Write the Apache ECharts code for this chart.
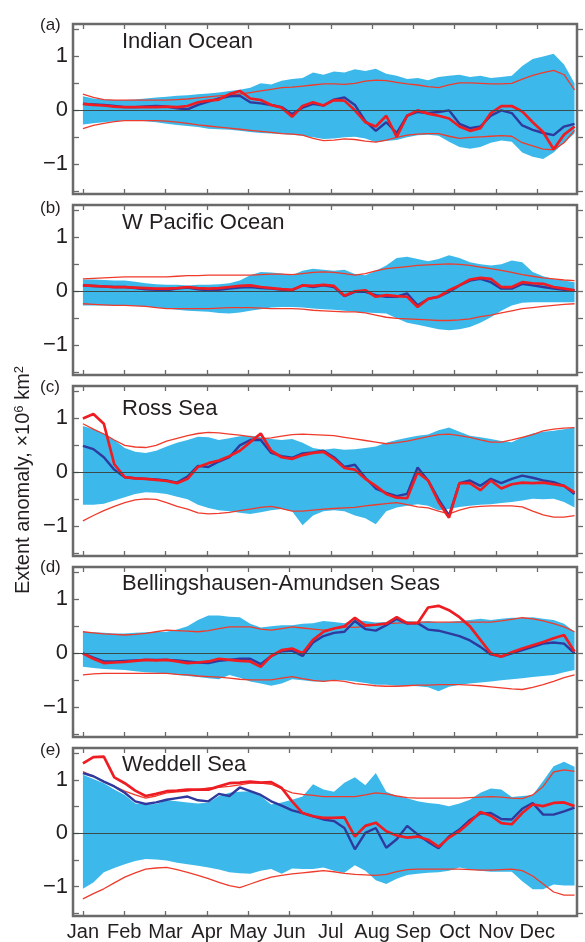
<!DOCTYPE html>
<html><head><meta charset="utf-8">
<script src="https://cdn.jsdelivr.net/npm/echarts@6/dist/echarts.min.js"></script>
<style>html,body{margin:0;padding:0;background:#fff}#c{width:585px;height:942px}</style>
</head><body><div id="c"></div>
<script>
// ---------- labels ----------
const months = ['Jan','Feb','Mar','Apr','May','Jun','Jul','Aug','Sep','Oct','Nov','Dec'];
const monthTicks = [0,1,2,3,4,5,6,7,8,9,10,11];
const yTicks = [-1.5,-1,-0.5,0,0.5,1,1.5];
const yLabels = [-1,0,1];
const panelLetters = ['(a)','(b)','(c)','(d)','(e)'];
const panelTitles = ['Indian Ocean','W Pacific Ocean','Ross Sea','Bellingshausen-Amundsen Seas','Weddell Sea'];

// ---------- (a) Indian Ocean ----------
const ioHi = [0.26,0.22,0.2,0.19,0.19,0.2,0.22,0.24,0.25,0.27, 0.28,0.3,0.31,0.33,0.36,0.38,0.42,0.5,0.48,0.55, 0.58,0.6,0.7,0.66,0.72,0.7,0.76,0.73,0.77,0.68, 0.64,0.58,0.6,0.56,0.62,0.64,0.66,0.62,0.64,0.6, 0.62,0.64,0.82,0.95,1.0,1.05,0.85,0.5];
const ioLo = [-0.26,-0.24,-0.22,-0.2,-0.19,-0.19,-0.2,-0.22,-0.25,-0.27, -0.29,-0.31,-0.34,-0.35,-0.36,-0.38,-0.4,-0.42,-0.43,-0.44, -0.45,-0.47,-0.5,-0.53,-0.52,-0.5,-0.49,-0.52,-0.59,-0.57, -0.55,-0.5,-0.46,-0.45,-0.47,-0.58,-0.68,-0.71,-0.68,-0.6, -0.56,-0.58,-0.78,-0.86,-0.9,-0.78,-0.6,-0.43];
const ioEnvHi = [0.3,0.24,0.2,0.19,0.19,0.19,0.19,0.19,0.19,0.2, 0.21,0.23,0.25,0.27,0.28,0.3,0.33,0.36,0.39,0.42, 0.43,0.45,0.47,0.49,0.49,0.48,0.5,0.54,0.56,0.55, 0.52,0.49,0.47,0.44,0.42,0.47,0.51,0.51,0.5,0.49, 0.49,0.5,0.58,0.65,0.7,0.74,0.66,0.38];
const ioEnvLo = [-0.34,-0.28,-0.24,-0.21,-0.19,-0.19,-0.19,-0.19,-0.2,-0.22, -0.24,-0.27,-0.29,-0.31,-0.33,-0.35,-0.37,-0.39,-0.41,-0.43, -0.44,-0.46,-0.52,-0.56,-0.55,-0.53,-0.54,-0.57,-0.59,-0.55, -0.5,-0.46,-0.44,-0.43,-0.43,-0.48,-0.52,-0.5,-0.49,-0.48, -0.47,-0.48,-0.6,-0.66,-0.72,-0.73,-0.6,-0.37];
const ioBlue = [0.12,0.11,0.1,0.08,0.06,0.06,0.07,0.08,0.07,0.04, 0.02,0.1,0.16,0.22,0.26,0.27,0.15,0.13,0.1,0.06, -0.07,0.05,0.12,0.09,0.2,0.24,0.1,-0.2,-0.38,-0.22, -0.42,-0.1,-0.03,-0.05,-0.03,0.0,-0.25,-0.33,-0.3,-0.1, 0.0,-0.05,-0.28,-0.36,-0.42,-0.46,-0.3,-0.25];
const ioRed = [0.12,0.1,0.09,0.07,0.06,0.06,0.06,0.06,0.07,0.06, 0.08,0.15,0.18,0.2,0.3,0.36,0.22,0.19,0.1,0.05, -0.12,0.08,0.15,0.09,0.19,0.18,0.0,-0.22,-0.3,-0.1, -0.49,-0.1,0.0,-0.06,-0.1,-0.15,-0.3,-0.38,-0.33,-0.05, 0.08,0.08,-0.02,-0.22,-0.4,-0.72,-0.45,-0.3];

// ---------- (b) W Pacific Ocean ----------
const wpHi = [0.22,0.22,0.21,0.2,0.2,0.18,0.15,0.13,0.12,0.12, 0.11,0.12,0.12,0.13,0.15,0.2,0.3,0.36,0.35,0.33, 0.3,0.38,0.42,0.4,0.38,0.4,0.32,0.3,0.38,0.48, 0.62,0.64,0.6,0.56,0.6,0.67,0.62,0.54,0.5,0.48, 0.5,0.57,0.54,0.36,0.28,0.23,0.2,0.17];
const wpLo = [-0.26,-0.26,-0.26,-0.26,-0.26,-0.27,-0.28,-0.3,-0.32,-0.34, -0.36,-0.37,-0.38,-0.4,-0.41,-0.39,-0.36,-0.33,-0.3,-0.29, -0.29,-0.3,-0.32,-0.33,-0.34,-0.36,-0.38,-0.39,-0.4,-0.41, -0.5,-0.58,-0.62,-0.66,-0.7,-0.72,-0.7,-0.66,-0.58,-0.48, -0.36,-0.26,-0.21,-0.2,-0.2,-0.2,-0.2,-0.2];
const wpEnvHi = [0.23,0.24,0.25,0.26,0.27,0.27,0.27,0.27,0.27,0.28, 0.29,0.29,0.3,0.3,0.3,0.3,0.3,0.31,0.32,0.32, 0.31,0.33,0.35,0.36,0.35,0.33,0.3,0.33,0.38,0.42, 0.44,0.46,0.48,0.49,0.5,0.51,0.5,0.48,0.45,0.42, 0.39,0.35,0.31,0.28,0.25,0.23,0.21,0.2];
const wpEnvLo = [-0.23,-0.24,-0.25,-0.26,-0.26,-0.27,-0.28,-0.3,-0.32,-0.32, -0.32,-0.32,-0.32,-0.31,-0.3,-0.3,-0.3,-0.31,-0.32,-0.32, -0.32,-0.33,-0.35,-0.36,-0.37,-0.38,-0.38,-0.4,-0.44,-0.48, -0.5,-0.51,-0.52,-0.53,-0.54,-0.54,-0.53,-0.51,-0.47,-0.44, -0.4,-0.36,-0.32,-0.3,-0.28,-0.26,-0.24,-0.23];
const wpBlue = [0.11,0.1,0.09,0.08,0.08,0.06,0.04,0.03,0.02,0.05, 0.07,0.04,0.02,0.03,0.05,0.07,0.08,0.06,0.05,0.03, 0.02,0.11,0.08,0.11,0.08,-0.09,-0.01,-0.01,-0.07,-0.1, -0.1,-0.04,-0.26,-0.14,-0.1,-0.01,0.11,0.2,0.23,0.17, 0.05,0.05,0.14,0.11,0.08,0.05,0.03,0.02];
const wpRed = [0.11,0.1,0.09,0.08,0.08,0.07,0.06,0.05,0.05,0.06, 0.08,0.06,0.05,0.06,0.08,0.1,0.11,0.08,0.06,0.04, 0.03,0.11,0.1,0.12,0.1,-0.08,0.0,0.02,-0.1,-0.07, -0.09,-0.1,-0.29,-0.14,-0.1,0.02,0.11,0.22,0.25,0.23, 0.08,0.08,0.17,0.15,0.14,0.08,0.05,0.02];

// ---------- (c) Ross Sea ----------
const rsHi = [0.86,0.8,0.72,0.6,0.45,0.38,0.36,0.4,0.48,0.55, 0.6,0.66,0.65,0.6,0.63,0.67,0.68,0.66,0.62,0.6, 0.62,0.55,0.45,0.42,0.44,0.42,0.43,0.45,0.48,0.55, 0.6,0.64,0.68,0.7,0.78,0.83,0.75,0.68,0.65,0.62, 0.58,0.56,0.65,0.72,0.75,0.77,0.8,0.83];
const rsLo = [-0.6,-0.6,-0.58,-0.52,-0.46,-0.4,-0.37,-0.38,-0.4,-0.45, -0.5,-0.6,-0.66,-0.7,-0.72,-0.75,-0.77,-0.74,-0.7,-0.68, -0.72,-0.98,-0.8,-0.72,-0.7,-0.72,-0.8,-0.85,-0.96,-0.72, -0.65,-0.62,-0.59,-0.62,-0.7,-0.68,-0.64,-0.62,-0.6,-0.59, -0.57,-0.55,-0.52,-0.49,-0.5,-0.49,-0.55,-0.65];
const rsEnvHi = [0.9,0.8,0.71,0.6,0.5,0.47,0.46,0.5,0.58,0.63, 0.68,0.72,0.74,0.73,0.71,0.69,0.66,0.62,0.64,0.67, 0.7,0.71,0.7,0.69,0.68,0.65,0.62,0.59,0.56,0.53, 0.55,0.58,0.62,0.66,0.7,0.71,0.68,0.65,0.6,0.56, 0.56,0.6,0.65,0.7,0.77,0.8,0.82,0.83];
const rsEnvLo = [-0.9,-0.8,-0.71,-0.63,-0.56,-0.51,-0.49,-0.5,-0.56,-0.63, -0.68,-0.75,-0.77,-0.76,-0.74,-0.71,-0.68,-0.65,-0.63,-0.67, -0.72,-0.72,-0.7,-0.68,-0.67,-0.66,-0.65,-0.62,-0.6,-0.58, -0.56,-0.6,-0.64,-0.66,-0.72,-0.77,-0.7,-0.65,-0.63,-0.62, -0.62,-0.62,-0.64,-0.72,-0.79,-0.83,-0.83,-0.8];
const rsBlue = [0.49,0.43,0.28,0.05,-0.09,-0.11,-0.12,-0.13,-0.15,-0.19, -0.08,0.12,0.1,0.2,0.28,0.5,0.6,0.6,0.36,0.3, 0.27,0.35,0.37,0.4,0.28,0.1,0.14,-0.1,-0.3,-0.38, -0.44,-0.4,0.09,-0.15,-0.5,-0.8,-0.2,-0.15,-0.25,-0.12, -0.2,-0.12,-0.06,-0.1,-0.15,-0.18,-0.25,-0.4];
const rsRed = [1.0,1.08,0.9,0.15,-0.09,-0.11,-0.12,-0.14,-0.16,-0.2, -0.12,0.1,0.17,0.22,0.3,0.4,0.56,0.72,0.4,0.28, 0.25,0.32,0.36,0.38,0.25,0.08,0.05,-0.12,-0.25,-0.4, -0.47,-0.48,0.0,-0.15,-0.55,-0.84,-0.2,-0.2,-0.33,-0.15, -0.3,-0.22,-0.19,-0.2,-0.19,-0.22,-0.25,-0.37];

// ---------- (d) Bellingshausen-Amundsen Seas ----------
const baHi = [0.4,0.39,0.38,0.37,0.37,0.38,0.39,0.4,0.4,0.44, 0.5,0.62,0.7,0.7,0.68,0.67,0.55,0.48,0.5,0.52, 0.52,0.55,0.56,0.6,0.58,0.56,0.62,0.6,0.57,0.58, 0.62,0.6,0.58,0.6,0.57,0.58,0.6,0.62,0.64,0.62, 0.64,0.66,0.66,0.67,0.64,0.62,0.55,0.4];
const baLo = [-0.25,-0.27,-0.29,-0.3,-0.31,-0.33,-0.35,-0.36,-0.37,-0.4, -0.42,-0.44,-0.46,-0.48,-0.4,-0.45,-0.52,-0.56,-0.6,-0.56, -0.48,-0.5,-0.52,-0.52,-0.5,-0.5,-0.52,-0.55,-0.58,-0.58, -0.6,-0.6,-0.61,-0.63,-0.7,-0.62,-0.58,-0.56,-0.54,-0.52, -0.5,-0.48,-0.46,-0.44,-0.42,-0.4,-0.35,-0.31];
const baEnvHi = [0.4,0.38,0.36,0.35,0.34,0.35,0.37,0.4,0.43,0.42, 0.41,0.4,0.42,0.46,0.49,0.49,0.49,0.45,0.43,0.46, 0.49,0.47,0.45,0.43,0.46,0.49,0.48,0.5,0.53,0.55, 0.56,0.57,0.58,0.58,0.58,0.58,0.58,0.58,0.58,0.58, 0.6,0.63,0.66,0.64,0.6,0.55,0.49,0.4];
const baEnvLo = [-0.4,-0.38,-0.37,-0.37,-0.37,-0.37,-0.37,-0.37,-0.37,-0.39, -0.4,-0.42,-0.43,-0.44,-0.46,-0.48,-0.49,-0.49,-0.49,-0.46, -0.43,-0.47,-0.5,-0.52,-0.5,-0.52,-0.56,-0.58,-0.6,-0.61, -0.61,-0.6,-0.59,-0.59,-0.58,-0.58,-0.58,-0.59,-0.6,-0.62, -0.64,-0.66,-0.67,-0.63,-0.58,-0.52,-0.45,-0.4];
const baBlue = [0.0,-0.08,-0.15,-0.15,-0.14,-0.13,-0.12,-0.12,-0.12,-0.13, -0.15,-0.17,-0.18,-0.14,-0.12,-0.1,-0.1,-0.2,-0.05,0.04, 0.05,-0.05,0.2,0.32,0.38,0.4,0.6,0.45,0.42,0.52, 0.64,0.55,0.56,0.44,0.42,0.37,0.32,0.24,0.12,-0.02, -0.06,0.0,0.06,0.12,0.18,0.2,0.18,0.0];
const baRed = [0.0,-0.1,-0.18,-0.17,-0.16,-0.14,-0.12,-0.13,-0.12,-0.15, -0.18,-0.17,-0.15,-0.1,-0.12,-0.14,-0.15,-0.25,-0.05,0.06, 0.09,0.0,0.25,0.4,0.46,0.5,0.66,0.52,0.53,0.55, 0.67,0.56,0.56,0.85,0.88,0.8,0.67,0.5,0.25,0.0, -0.06,0.02,0.09,0.15,0.21,0.28,0.34,0.03];

// ---------- (e) Weddell Sea ----------
const wsHi = [1.1,1.02,0.94,0.82,0.72,0.56,0.54,0.55,0.62,0.6, 0.58,0.56,0.58,0.7,0.76,0.78,0.79,0.7,0.54,0.58, 0.63,0.69,0.92,0.82,0.78,0.95,1.05,0.9,1.13,0.78, 0.7,0.66,0.6,0.57,0.55,0.51,0.56,0.63,0.76,0.84, 0.82,0.68,0.7,0.72,0.98,1.26,1.34,1.25];
const wsLo = [-1.04,-0.92,-0.73,-0.65,-0.58,-0.52,-0.48,-0.49,-0.51,-0.55, -0.58,-0.61,-0.64,-0.68,-0.73,-0.75,-0.76,-0.7,-0.67,-0.76, -0.66,-0.67,-0.67,-0.64,-0.7,-0.74,-0.6,-0.7,-0.88,-0.95, -0.85,-0.78,-0.76,-0.74,-0.73,-0.7,-0.64,-0.68,-0.7,-0.72, -0.72,-0.72,-0.9,-1.05,-1.05,-0.96,-0.98,-0.98];
const wsEnvHi = [1.16,1.07,0.97,0.88,0.79,0.72,0.66,0.7,0.76,0.78, 0.79,0.82,0.85,0.86,0.88,0.91,0.94,0.94,0.92,0.84, 0.76,0.73,0.71,0.69,0.69,0.69,0.69,0.72,0.76,0.74, 0.7,0.67,0.66,0.66,0.66,0.66,0.66,0.67,0.68,0.69, 0.68,0.66,0.65,0.72,0.88,1.15,1.19,1.16];
const wsEnvLo = [-1.23,-1.13,-1.04,-0.93,-0.82,-0.74,-0.67,-0.65,-0.64,-0.68, -0.73,-0.79,-0.85,-0.92,-0.98,-1.02,-0.95,-0.88,-0.82,-0.79, -0.76,-0.74,-0.72,-0.7,-0.72,-0.75,-0.77,-0.78,-0.79,-0.77, -0.72,-0.68,-0.67,-0.67,-0.67,-0.67,-0.67,-0.68,-0.69,-0.69, -0.68,-0.67,-0.7,-0.8,-0.95,-1.1,-1.16,-1.16];
const wsBlue = [1.13,1.07,0.97,0.88,0.76,0.6,0.55,0.58,0.63,0.66, 0.69,0.62,0.6,0.74,0.7,0.86,0.79,0.72,0.6,0.52, 0.43,0.38,0.32,0.26,0.23,0.1,-0.3,0.01,0.1,-0.27, -0.11,0.14,-0.02,-0.16,-0.28,-0.06,0.07,0.25,0.37,0.38, 0.27,0.26,0.46,0.57,0.35,0.35,0.41,0.48];
const wsRed = [1.31,1.43,1.44,1.05,0.94,0.8,0.7,0.74,0.79,0.8, 0.82,0.82,0.82,0.88,0.94,0.95,0.97,0.95,0.96,0.85, 0.6,0.38,0.32,0.29,0.29,0.3,-0.06,0.14,0.2,0.04, -0.04,-0.08,-0.06,-0.12,-0.25,-0.08,0.04,0.21,0.4,0.33, 0.19,0.17,0.38,0.54,0.51,0.57,0.58,0.51];

const panels = [
  {hi: ioHi, lo: ioLo, envHi: ioEnvHi, envLo: ioEnvLo, blue: ioBlue, red: ioRed},
  {hi: wpHi, lo: wpLo, envHi: wpEnvHi, envLo: wpEnvLo, blue: wpBlue, red: wpRed},
  {hi: rsHi, lo: rsLo, envHi: rsEnvHi, envLo: rsEnvLo, blue: rsBlue, red: rsRed},
  {hi: baHi, lo: baLo, envHi: baEnvHi, envLo: baEnvLo, blue: baBlue, red: baRed},
  {hi: wsHi, lo: wsLo, envHi: wsEnvHi, envLo: wsEnvLo, blue: wsBlue, red: wsRed}
];

// ---------- layout / style ----------
const FONT = '"Liberation Sans", Arial, Helvetica, sans-serif';
const TXT = '#231f20';
const FRAME = '#6a6a6a';
const BAND = '#3cb9ea';
const ENV = '#ef3b2c';
const BLUE = '#2e3a9e';
const RED = '#ee1d23';
const STEP = 11.9 / 47;           // month position of each sample
const TOP0 = 24, PITCH = 181, H = 170;
const titleOffset = [17.5, 17.5, 22.5, 17, 17];
const letterOffset = [1, 3, 1, 0, 2];

const xy = arr => arr.map((v, i) => [i * STEP, v]);
const fmtY = v => v < 0 ? '\u2212' + Math.abs(v) : String(v);

const grid = [], xAxis = [], yAxis = [], series = [], graphic = [];
panels.forEach((p, k) => {
  const top = TOP0 + PITCH * k;
  grid.push({left: 73, width: 504, top: top, height: H, show: true,
    borderColor: FRAME, borderWidth: 2.5, backgroundColor: 'transparent'});
  const tickStyle = {color: FRAME, width: 1.3};
  const noLine = {show: false, onZero: false};
  xAxis.push({gridIndex: k, type: 'value', min: -0.24, max: 11.96, position: 'bottom',
    axisLine: noLine, splitLine: {show: false},
    axisTick: {show: true, inside: true, length: 5, customValues: monthTicks, lineStyle: tickStyle},
    axisLabel: {show: k === 4, customValues: monthTicks, formatter: v => months[Math.round(v)],
      fontFamily: FONT, fontSize: 20, color: TXT, margin: 6}});
  xAxis.push({gridIndex: k, type: 'value', min: -0.24, max: 11.96, position: 'top',
    axisLine: noLine, splitLine: {show: false},
    axisTick: {show: true, inside: true, length: 5, customValues: monthTicks, lineStyle: tickStyle},
    axisLabel: {show: false}});
  yAxis.push({gridIndex: k, type: 'value', min: -1.55, max: 1.6, position: 'left',
    axisLine: noLine, splitLine: {show: false},
    axisTick: {show: true, inside: true, length: 6, customValues: yTicks, lineStyle: tickStyle},
    axisLabel: {customValues: yLabels, formatter: fmtY, fontFamily: FONT, fontSize: 22, color: TXT, margin: 5}});
  yAxis.push({gridIndex: k, type: 'value', min: -1.55, max: 1.6, position: 'right',
    axisLine: noLine, splitLine: {show: false},
    axisTick: {show: true, inside: false, length: 6, customValues: yTicks, lineStyle: tickStyle},
    axisLabel: {show: false}});

  const xi = 2 * k, yi = 2 * k;
  const base = {type: 'line', xAxisIndex: xi, yAxisIndex: yi, symbol: 'none', showSymbol: false,
    animation: false, silent: true};
  // ensemble band drawn as polygon between lower and upper bounds
  series.push({type: 'custom', xAxisIndex: xi, yAxisIndex: yi, silent: true, animation: false, clip: true,
    data: p.hi.map((h, i) => [i * STEP, p.lo[i], h]),
    encode: {x: 0, y: [1, 2]},
    renderItem: (params, api) => {
      if (params.dataIndex !== 0) return null;
      const pts = [];
      for (let i = 0; i < p.hi.length; i++) pts.push(api.coord([i * STEP, p.hi[i]]));
      for (let i = p.lo.length - 1; i >= 0; i--) pts.push(api.coord([i * STEP, p.lo[i]]));
      return {type: 'polygon', shape: {points: pts}, style: {fill: BAND}};
    }});
  // envelope lines + zero line
  series.push(Object.assign({}, base, {data: xy(p.envHi), lineStyle: {color: ENV, width: 1.3},
    markLine: {silent: true, symbol: 'none', label: {show: false}, animation: false,
      lineStyle: {color: '#3d4a4a', width: 1, type: 'solid'}, data: [{yAxis: 0}]}}));
  series.push(Object.assign({}, base, {data: xy(p.envLo), lineStyle: {color: ENV, width: 1.3}}));
  series.push(Object.assign({}, base, {data: xy(p.blue), lineStyle: {color: BLUE, width: 2.4}}));
  series.push(Object.assign({}, base, {data: xy(p.red), lineStyle: {color: RED, width: 2.7}}));

  graphic.push({type: 'text', x: 40, y: top + letterOffset[k],
    style: {text: panelLetters[k], fontFamily: FONT, fontSize: 17, fill: TXT, verticalAlign: 'middle'}});
  graphic.push({type: 'text', x: 122, y: top + titleOffset[k],
    style: {text: panelTitles[k], fontFamily: FONT, fontSize: 22, fill: TXT, verticalAlign: 'middle'}});
});

graphic.push({type: 'text', x: 23, y: 480, rotation: Math.PI / 2,
  style: {text: 'Extent anomaly, \u00d710{sup|6} km{sup|2}', fontFamily: FONT, fontSize: 20, fill: TXT,
    align: 'center', verticalAlign: 'middle',
    rich: {sup: {fontFamily: FONT, fontSize: 13, fill: TXT, verticalAlign: 'top'}}}});

const chart = echarts.init(document.getElementById('c'), null, {renderer: 'canvas'});
chart.setOption({animation: false, grid, xAxis, yAxis, series, graphic});
</script>
</body></html>
